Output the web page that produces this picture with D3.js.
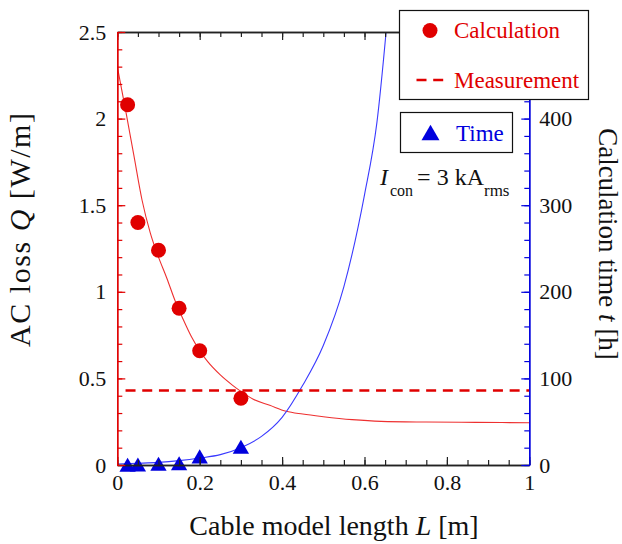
<!DOCTYPE html>
<html>
<head>
<meta charset="utf-8">
<script src="https://cdn.jsdelivr.net/npm/d3@7"></script>
<style>
  html, body { margin: 0; padding: 0; background: #fff; }
  svg { display: block; }
  text { font-family: "Liberation Serif", "Times New Roman", serif; }
</style>
</head>
<body>
<svg id="chart" width="622" height="544"></svg>
<script>
// ---------------- data ----------------
const pointLengths = [0.025, 0.05, 0.1, 0.15, 0.2, 0.3];          // L [m]
const calcLoss     = [2.08, 1.40, 1.24, 0.905, 0.66, 0.385];       // Q [W/m]
const calcTime     = [0.3, 0.6, 1.5, 2, 10, 21];                   // t [h]
const measuredLoss = 0.43;                                         // W/m
const measuredRange = [0.02, 1];                                   // L span of measurement line

const lossCurveL = [0, 0.02, 0.04, 0.06, 0.08, 0.1, 0.12, 0.14, 0.16, 0.18, 0.2, 0.22, 0.25, 0.28, 0.3, 0.33, 0.37, 0.41, 0.45, 0.5, 0.57, 0.64, 0.75, 0.87, 1.0];
const lossCurveQ = [2.30, 2.05, 1.79, 1.53, 1.34, 1.20, 1.08, 0.95, 0.84, 0.74, 0.66, 0.595, 0.52, 0.46, 0.425, 0.38, 0.345, 0.31, 0.294, 0.279, 0.262, 0.252, 0.248, 0.246, 0.244];

const timeCurveL = [0, 0.05, 0.1, 0.15, 0.2, 0.25, 0.3, 0.35, 0.4, 0.45, 0.5, 0.55, 0.6, 0.63, 0.66];
const timeCurveT = [1.2, 2, 3, 5, 8, 12, 20, 33, 55, 92, 138, 206, 312, 395, 540];

const xTicks  = [0, 0.2, 0.4, 0.6, 0.8, 1];
const yLTicks = [0, 0.5, 1, 1.5, 2, 2.5];
const yRTicks = [0, 100, 200, 300, 400];

// ---------------- layout ----------------
const svg = d3.select("#chart");
const X0 = 117.3, X1 = 529.3, Y0 = 465, Y1 = 32;
const RED = "#e00000", RED_LINE = "#ee3030", BLUE = "#0000dd", BLUE_LINE = "#3a3aff";

const x  = d3.scaleLinear().domain([0, 1]).range([X0, X1]);
const yL = d3.scaleLinear().domain([0, 2.5]).range([Y0, Y1]);
const yR = d3.scaleLinear().domain([0, 500]).range([Y0, Y1]);

svg.append("defs").append("clipPath").attr("id", "plotclip")
  .append("rect").attr("x", X0).attr("y", Y1).attr("width", X1 - X0).attr("height", Y0 - Y1);

const plot = svg.append("g").attr("clip-path", "url(#plotclip)");

// curves
const lossLine = d3.line().x(d => x(d[0])).y(d => yL(d[1])).curve(d3.curveMonotoneX);
plot.append("path")
  .datum(lossCurveL.map((l, i) => [l, lossCurveQ[i]]))
  .attr("d", lossLine).attr("fill", "none").attr("stroke", RED_LINE).attr("stroke-width", 1.1);

const timeLine = d3.line().x(d => x(d[0])).y(d => yR(d[1])).curve(d3.curveMonotoneX);
plot.append("path")
  .datum(timeCurveL.map((l, i) => [l, timeCurveT[i]]))
  .attr("d", timeLine).attr("fill", "none").attr("stroke", BLUE_LINE).attr("stroke-width", 1.1);

// measurement
plot.append("line")
  .attr("x1", x(measuredRange[0])).attr("x2", x(measuredRange[1]))
  .attr("y1", yL(measuredLoss)).attr("y2", yL(measuredLoss))
  .attr("stroke", RED).attr("stroke-width", 2.6).attr("stroke-dasharray", "10,6.7");

// markers
svg.append("g").selectAll("circle")
  .data(pointLengths.map((l, i) => [l, calcLoss[i]]))
  .join("circle")
  .attr("cx", d => x(d[0])).attr("cy", d => yL(d[1])).attr("r", 7.5).attr("fill", RED);

const triSize = 115;
const triR = Math.sqrt(triSize / (3 * Math.sqrt(3)));
const tri = d3.symbol().type(d3.symbolTriangle).size(triSize);
svg.append("g").selectAll("path")
  .data(pointLengths.map((l, i) => [l, calcTime[i]]))
  .join("path")
  .attr("d", tri)
  .attr("transform", d => `translate(${x(d[0])},${yR(d[1]) + triR / 2})`)
  .attr("fill", BLUE);

// ---------------- axes ----------------
const tickFont = 22;
function styleAxis(g, color) {
  g.select(".domain").attr("stroke", color).attr("stroke-width", 1.3);
  g.selectAll(".tick line").attr("stroke", color).attr("stroke-width", 1.2);
  g.selectAll(".tick text").attr("fill", "#111").style("font-size", tickFont + "px")
    .style("font-family", "'Liberation Serif', 'Times New Roman', serif");
}
const fmt = d3.format("~g");
const xMinor = d3.range(0, 1.0001, 0.05);

// bottom
svg.append("g").attr("transform", `translate(0,${Y0})`)
  .call(d3.axisBottom(x).tickValues(xMinor).tickSize(-5).tickSizeOuter(0).tickFormat(""))
  .call(g => styleAxis(g, "#222"));
svg.append("g").attr("transform", `translate(0,${Y0})`)
  .call(d3.axisBottom(x).tickValues(xTicks).tickSize(-8).tickSizeOuter(0).tickPadding(9).tickFormat(fmt))
  .call(g => styleAxis(g, "#222"));
// top
svg.append("g").attr("transform", `translate(0,${Y1})`)
  .call(d3.axisTop(x).tickValues(xMinor).tickSize(-5).tickSizeOuter(0).tickFormat(""))
  .call(g => styleAxis(g, "#222"));
svg.append("g").attr("transform", `translate(0,${Y1})`)
  .call(d3.axisTop(x).tickValues(xTicks).tickSize(-8).tickSizeOuter(0).tickFormat(""))
  .call(g => styleAxis(g, "#222"));
// left
svg.append("g").attr("transform", `translate(${X0},0)`)
  .call(d3.axisLeft(yL).tickValues(d3.range(0, 2.5001, 0.1)).tickSize(-5).tickSizeOuter(0).tickFormat(""))
  .call(g => styleAxis(g, RED));
svg.append("g").attr("transform", `translate(${X0},0)`)
  .call(d3.axisLeft(yL).tickValues(yLTicks).tickSize(-8).tickSizeOuter(0).tickPadding(11).tickFormat(fmt))
  .call(g => styleAxis(g, RED));
// right
svg.append("g").attr("transform", `translate(${X1},0)`)
  .call(d3.axisRight(yR).tickValues(d3.range(0, 500.1, 20)).tickSize(-5).tickSizeOuter(0).tickFormat(""))
  .call(g => styleAxis(g, BLUE));
svg.append("g").attr("transform", `translate(${X1},0)`)
  .call(d3.axisRight(yR).tickValues(yRTicks).tickSize(-8).tickSizeOuter(0).tickPadding(10).tickFormat(fmt))
  .call(g => styleAxis(g, BLUE));

// ---------------- titles ----------------
const bt = svg.append("text").attr("x", 334).attr("y", 535).attr("text-anchor", "middle")
  .style("font-size", "28px").attr("fill", "#111");
bt.append("tspan").text("Cable model length ");
bt.append("tspan").attr("font-style", "italic").text("L");
bt.append("tspan").text(" [m]");

const lt = svg.append("text").attr("transform", `translate(30,230) rotate(-90)`).attr("text-anchor", "middle")
  .style("font-size", "30px").attr("fill", "#111")
  .attr("textLength", 234).attr("lengthAdjust", "spacing");
lt.append("tspan").text("AC loss ");
lt.append("tspan").attr("font-style", "italic").text("Q");
lt.append("tspan").text(" [W/m]");

const rt = svg.append("text").attr("transform", `translate(599,244) rotate(90)`).attr("text-anchor", "middle")
  .style("font-size", "27px").attr("fill", "#111");
rt.append("tspan").text("Calculation time ");
rt.append("tspan").attr("font-style", "italic").text("t");
rt.append("tspan").text(" [h]");

// annotation
const ann = svg.append("text").attr("x", 380).attr("y", 185).style("font-size", "24px").attr("fill", "#111");
ann.append("tspan").attr("font-style", "italic").text("I");
ann.append("tspan").attr("dy", 11).attr("dx", 2).style("font-size", "16px").text("con");
ann.append("tspan").attr("dy", -11).attr("dx", 4).text("= 3 kA");
ann.append("tspan").attr("dy", 11).style("font-size", "17px").text("rms");

// ---------------- legends ----------------
const leg1 = svg.append("g");
leg1.append("rect").attr("x", 399.5).attr("y", 10.5).attr("width", 189).attr("height", 89)
  .attr("fill", "#fff").attr("stroke", "#111").attr("stroke-width", 1.2);
leg1.append("circle").attr("cx", 430).attr("cy", 30.5).attr("r", 7.5).attr("fill", RED);
leg1.append("text").attr("x", 454).attr("y", 37.5).style("font-size", "23px").attr("fill", RED).text("Calculation");
leg1.append("line").attr("x1", 416.5).attr("x2", 448.5).attr("y1", 80).attr("y2", 80)
  .attr("stroke", RED).attr("stroke-width", 2.6).attr("stroke-dasharray", "10,6.7");
leg1.append("text").attr("x", 454).attr("y", 87.5).style("font-size", "23px").attr("fill", RED).text("Measurement");

const leg2 = svg.append("g");
leg2.append("rect").attr("x", 400.5).attr("y", 112.5).attr("width", 112).attr("height", 40)
  .attr("fill", "#fff").attr("stroke", "#111").attr("stroke-width", 1.2);
leg2.append("path").attr("d", d3.symbol().type(d3.symbolTriangle).size(140))
  .attr("transform", `translate(430.5,${132.5 + Math.sqrt(140 / (3 * Math.sqrt(3))) / 2})`).attr("fill", BLUE);
leg2.append("text").attr("x", 456).attr("y", 140.5).style("font-size", "23px").attr("fill", BLUE).text("Time");
</script>
</body>
</html>
